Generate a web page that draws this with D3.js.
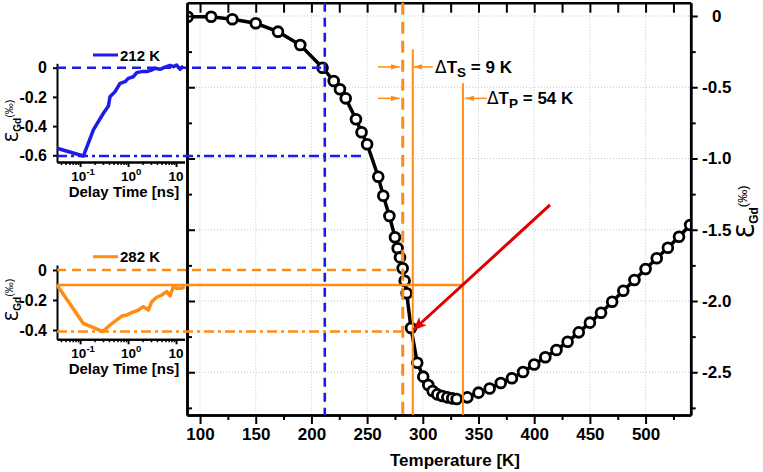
<!DOCTYPE html>
<html>
<head>
<meta charset="utf-8">
<style>
  body { margin: 0; background: #fff; }
  svg { display: block; font-family: "Liberation Sans", Arial, sans-serif; font-weight: bold; }
  .grid line { stroke: #c8c8c8; stroke-width: 1; stroke-dasharray: 1,2; }
  .axis line { stroke: #000; stroke-width: 2; }
  .axis path { stroke: #000; stroke-width: 2.5; }
  .axis text { fill: #000; font-family: "Liberation Sans", Arial, sans-serif; font-weight: bold; }
  .sym { font-family: "DejaVu Sans", sans-serif; font-weight: normal; }
</style>
</head>
<body>
<svg width="763" height="472"></svg>
<script src="https://d3js.org/d3.v7.min.js"></script>
<script>
// main curve: strain of Gd vs temperature
const mainT = [89, 110, 129, 150, 170, 190, 210, 220, 225.6, 230.8, 240, 245, 250, 260, 264.5, 270, 275,
  277.4, 279.5, 281.9, 283.7, 285.5, 289.4, 295, 300.4, 304.9, 308.8, 313, 317.5, 322, 326.4, 330.4,
  340, 350, 360, 370, 380, 390, 400, 410, 420, 430, 440, 450, 460, 470, 480, 490, 500, 510, 520, 530, 540];
const mainEps = [-0.005, -0.005, -0.023, -0.051, -0.11, -0.204, -0.363, -0.456, -0.514, -0.578, -0.725, -0.816, -0.90, -1.128, -1.261, -1.404, -1.553,
  -1.63, -1.694, -1.77, -1.858, -1.946, -2.19, -2.433, -2.531, -2.589, -2.632, -2.655, -2.667, -2.676, -2.683, -2.688,
  -2.676, -2.643, -2.614, -2.575, -2.542, -2.498, -2.446, -2.395, -2.344, -2.286, -2.22, -2.152, -2.082, -2.005, -1.928, -1.853, -1.775, -1.70, -1.626, -1.549, -1.467];

// inset transients
const delay212 = [0.033, 0.117, 0.189, 0.306, 0.389, 0.42, 0.536, 0.68, 0.866, 1.01, 1.29, 1.52, 1.93, 2.45, 3.12, 3.65, 4.64, 5.9, 7.5, 8.8, 10.3, 12.1, 14.2];
const eps212 = [-0.552, -0.605, -0.426, -0.312, -0.262, -0.199, -0.164, -0.107, -0.096, -0.073, -0.062, -0.034, -0.027, -0.027, -0.016, -0.004, -0.011, 0.003, 0.016, 0.007, 0.018, -0.011, 0.012];
const delay282 = [0.033, 0.117, 0.297, 0.42, 0.58, 0.74, 0.94, 1.19, 1.64, 2.08, 2.65, 3.12, 3.96, 5.03, 6.4, 7.5, 8.8, 10.3, 13.1, 15.0];
const eps282 = [-0.1, -0.356, -0.411, -0.367, -0.333, -0.307, -0.3, -0.284, -0.267, -0.244, -0.267, -0.211, -0.182, -0.167, -0.144, -0.173, -0.111, -0.122, -0.122, -0.111];

const tempMajor = d3.range(100, 501, 50);
const tempMinor = d3.range(125, 540, 50);
const epsMajor = [0, -0.5, -1.0, -1.5, -2.0, -2.5];
const epsMinor = [-0.25, -0.75, -1.25, -1.75, -2.25, -2.75];
const inset1Ticks = [0, -0.2, -0.4, -0.6];
const inset2Ticks = [0, -0.2, -0.4];
const delayMajor = [0.1, 1, 10];
const delayMinor = [0.04, 0.05, 0.06, 0.07, 0.08, 0.09, 0.2, 0.3, 0.4, 0.5, 0.6, 0.7, 0.8, 0.9, 2, 3, 4, 5, 6, 7, 8, 9];

const T212 = 212, T282 = 282, TS = 291, TP = 336;

const blue = "#1c1ce8", orange = "#ff8c14", red = "#e00000";

const svg = d3.select("svg");
const fmt = d => d === 0 ? "0" : d.toFixed(1).replace("\u2212", "-");

const x = d3.scaleLinear().domain([88.3, 540.5]).range([187, 690.7]);
const y = d3.scaleLinear().domain([0.0933, -2.8]).range([2.7, 415]);
const L = 187, R = 690.7, TOP = 2.7, B = 415;

// markers
const defs = svg.append("defs");
defs.append("clipPath").attr("id", "plot")
  .append("rect").attr("x", L).attr("y", TOP).attr("width", R - L).attr("height", B - TOP);
defs.append("marker").attr("id", "ah-o").attr("viewBox", "0 0 10 6")
  .attr("refX", 10).attr("refY", 3).attr("markerWidth", 9).attr("markerHeight", 5.5)
  .attr("markerUnits", "userSpaceOnUse").attr("orient", "auto")
  .append("path").attr("d", "M0,0L10,3L0,6Z").attr("fill", orange);
defs.append("marker").attr("id", "ah-r").attr("viewBox", "0 0 10 8")
  .attr("refX", 9).attr("refY", 4).attr("markerWidth", 14).attr("markerHeight", 11)
  .attr("markerUnits", "userSpaceOnUse").attr("orient", "auto")
  .append("path").attr("d", "M0,0L10,4L0,8L2.5,4Z").attr("fill", red);

// grid
const grid = svg.append("g").attr("class", "grid");
grid.selectAll(".gx").data(tempMajor).join("line")
  .attr("x1", d => x(d)).attr("x2", d => x(d)).attr("y1", TOP).attr("y2", B);
grid.selectAll(".gy").data(epsMajor).join("line")
  .attr("x1", L).attr("x2", R).attr("y1", d => y(d)).attr("y2", d => y(d));

// main curve
const main = mainT.map((t, i) => ({ t, e: mainEps[i] }));
const pg = svg.append("g").attr("clip-path", "url(#plot)");
pg.append("path").datum(main)
  .attr("d", d3.line().x(d => x(d.t)).y(d => y(d.e)))
  .attr("fill", "none").attr("stroke", "#000").attr("stroke-width", 3.5);
pg.selectAll("circle").data(main).join("circle")
  .attr("cx", d => x(d.t)).attr("cy", d => y(d.e)).attr("r", 4.9)
  .attr("fill", "#fff").attr("stroke", "#000").attr("stroke-width", 2.8);

// axes of the main plot
function styleAxis(g) { g.attr("class", "axis"); g.selectAll("text").style("font-size", "17px"); }
svg.append("g").attr("transform", `translate(0,${B})`)
  .call(d3.axisBottom(x).tickValues(tempMinor).tickSize(5).tickSizeOuter(0).tickFormat(""))
  .call(styleAxis);
svg.append("g").attr("transform", `translate(0,${B})`)
  .call(d3.axisBottom(x).tickValues(tempMajor).tickSize(9).tickPadding(4).tickSizeOuter(0).tickFormat(d3.format("d")))
  .call(styleAxis);
svg.append("g").attr("transform", `translate(0,${TOP})`)
  .call(d3.axisTop(x).tickValues(tempMajor.concat(tempMinor)).tickSize(-10).tickSizeOuter(0).tickFormat(""))
  .call(styleAxis);
svg.append("g").attr("transform", `translate(${R},0)`)
  .call(d3.axisRight(y).tickValues(epsMinor).tickSize(5).tickSizeOuter(0).tickFormat(""))
  .call(styleAxis);
svg.append("g").attr("transform", `translate(${R},0)`)
  .call(d3.axisRight(y).tickValues(epsMajor).tickSize(7).tickSizeOuter(0).tickFormat(fmt))
  .call(styleAxis)
  .call(g => g.selectAll("text").attr("x", 26).attr("text-anchor", "middle"));
svg.append("g").attr("transform", `translate(${L},0)`)
  .call(d3.axisLeft(y).tickValues(epsMinor).tickSize(-5).tickSizeOuter(0).tickFormat(""))
  .call(styleAxis);
svg.append("g").attr("transform", `translate(${L},0)`)
  .call(d3.axisLeft(y).tickValues(epsMajor).tickSize(-8).tickSizeOuter(0).tickFormat(""))
  .call(styleAxis);

svg.append("text").attr("x", 455).attr("y", 466).attr("text-anchor", "middle")
  .style("font-size", "17px").text("Temperature [K]");

function epsLabel(tx, ty, big, small) {
  const t = svg.append("text").attr("transform", `translate(${tx},${ty}) rotate(-90)`)
    .attr("text-anchor", "middle");
  t.append("tspan").attr("class", "sym").style("font-size", big + "px").text("\u0190");
  t.append("tspan").style("font-size", small + "px").attr("dy", small * 0.3).text("Gd");
  t.append("tspan").style("font-size", (small + 1) + "px").style("font-weight", "normal")
    .attr("dy", -small * 0.85).text("(\u2030)");
}
epsLabel(754, 212, 24, 12);

// insets
const lx = d3.scaleLog().domain([0.033, 15]).range([57, 184.5]);
const y1 = d3.scaleLinear().domain([0.03, -0.646]).range([63.3, 162]);
const y2 = d3.scaleLinear().domain([0.033, -0.462]).range([265, 339.3]);

function inset(ys, ticks, bottom, delays, eps, color, label, legY) {
  svg.append("g").attr("transform", `translate(57,0)`)
    .call(d3.axisLeft(ys).tickValues(ticks).tickSize(4).tickPadding(6).tickSizeOuter(0).tickFormat(fmt))
    .call(g => { g.attr("class", "axis"); g.select(".domain").style("stroke-width", 2);
      g.selectAll("text").style("font-size", "16px"); });
  svg.append("g").attr("transform", `translate(0,${bottom})`)
    .call(d3.axisBottom(lx).tickValues(delayMinor).tickSize(3).tickSizeOuter(0).tickFormat(""))
    .call(g => { g.attr("class", "axis"); g.select(".domain").style("stroke-width", 2); g.selectAll("line").style("stroke-width", 1.5); });
  svg.append("g").attr("transform", `translate(0,${bottom})`)
    .call(d3.axisBottom(lx).tickValues(delayMajor).tickSize(5).tickSizeOuter(0).tickFormat(""))
    .call(g => { g.attr("class", "axis"); g.select(".domain").style("stroke-width", 2); });
  delayMajor.forEach(v => {
    const t = svg.append("text").attr("x", lx(v) + (v === 10 ? 0 : 3)).attr("y", bottom + 18.5)
      .attr("text-anchor", "middle").style("font-size", "13.5px");
    t.append("tspan").text("10");
    if (v !== 10) t.append("tspan").attr("dy", -5.5).style("font-size", "9.5px").text(v === 0.1 ? "-1" : "0");
  });
  svg.append("text").attr("x", 124).attr("y", bottom + 35).attr("text-anchor", "middle")
    .style("font-size", "15px").text("Delay Time [ns]");
  svg.append("path").datum(delays.map((d, i) => [d, eps[i]]))
    .attr("d", d3.line().x(d => lx(d[0])).y(d => ys(d[1])))
    .attr("fill", "none").attr("stroke", color).attr("stroke-width", 3.5).attr("stroke-linejoin", "round");
  svg.append("line").attr("x1", 93).attr("x2", 118).attr("y1", legY).attr("y2", legY)
    .attr("stroke", color).attr("stroke-width", 3);
  svg.append("text").attr("x", 120).attr("y", legY + 5.5).style("font-size", "15px").text(label);
}
inset(y1, inset1Ticks, 162, delay212, eps212, blue, "212 K", 55);
inset(y2, inset2Ticks, 339.3, delay282, eps282, orange, "282 K", 256.7);
epsLabel(18, 121, 17.5, 10);
epsLabel(18, 300, 17.5, 10);

// guide lines
const guides = svg.append("g").attr("fill", "none");
function seg(x1, y1_, x2, y2_, color, w, dash) {
  guides.append("line").attr("x1", x1).attr("y1", y1_).attr("x2", x2).attr("y2", y2_)
    .attr("stroke", color).attr("stroke-width", w).attr("stroke-dasharray", dash || null);
}
seg(x(T212), TOP, x(T212), B, blue, 2.6, "9,6");
seg(57, y1(0), x(T212), y1(0), blue, 2.6, "9,6");
seg(57, y1(-0.605), x(248), y1(-0.605), blue, 2.4, "10,4,3,4");
seg(x(T282), TOP, x(T282), B, orange, 3, "12,7");
seg(57, y2(0), x(T282), y2(0), orange, 2.6, "9,6");
seg(57, y2(-0.41), x(284), y2(-0.41), orange, 2.4, "10,4,3,4");
seg(x(TS), y(-0.234), x(TS), B, orange, 2);
seg(x(TP), y(-0.472), x(TP), B, orange, 2);
seg(57, y2(-0.1), x(TP), y2(-0.1), orange, 2.4);

// delta T arrows
const arrowRows = [-0.357, -0.578];
const arrowEnds = [[309, TS + 0.5], [357.4, TP + 2]];
arrowRows.forEach((v, i) => {
  guides.append("line").attr("x1", x(259.8)).attr("x2", x(T282) - 3).attr("y1", y(v)).attr("y2", y(v))
    .attr("stroke", orange).attr("stroke-width", 1.5).attr("marker-end", "url(#ah-o)");
  guides.append("line").attr("x1", x(arrowEnds[i][0])).attr("x2", x(arrowEnds[i][1])).attr("y1", y(v)).attr("y2", y(v))
    .attr("stroke", orange).attr("stroke-width", 1.5).attr("marker-end", "url(#ah-o)");
});

function deltaText(t, v, sub, rest) {
  const tx = svg.append("text").attr("x", x(t)).attr("y", y(v)).style("font-size", "17px");
  tx.append("tspan").attr("class", "sym").style("font-size", "17px").text("\u0394");
  tx.append("tspan").text("T");
  tx.append("tspan").attr("dy", 3.5).style("font-size", "13.5px").text(sub);
  tx.append("tspan").attr("dy", -3.5).text(" " + rest);
}
deltaText(311, -0.402, "S", "= 9 K");
deltaText(357.6, -0.618, "P", "= 54 K");

// red arrow
svg.append("line").attr("x1", x(414.2)).attr("y1", y(-1.326)).attr("x2", x(292)).attr("y2", y(-2.2))
  .attr("stroke", red).attr("stroke-width", 3).attr("marker-end", "url(#ah-r)");
</script>
</body>
</html>
